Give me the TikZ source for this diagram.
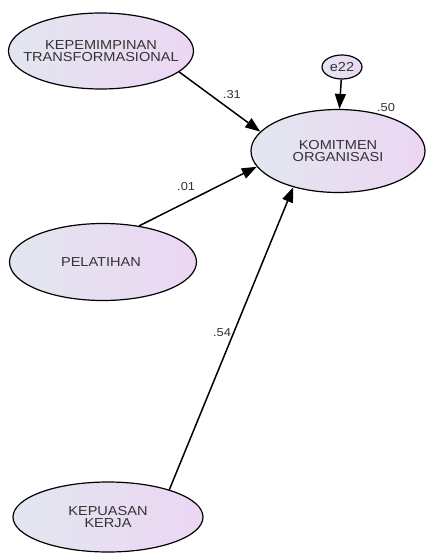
\documentclass[tikz,border=0pt]{standalone}
\usepackage{fontspec}
\setmainfont{Liberation Sans}[FakeStretch=1.12]
\usetikzlibrary{arrows.meta, shapes.geometric}

\begin{document}
\begin{tikzpicture}[x=1pt, y=1pt,
    >={Triangle[length=15pt, width=11pt]},
    % Colors
    gleft/.style={left color={rgb,255:red,226;green,230;blue,240}},
    gright/.style={right color={rgb,255:red,236;green,214;blue,242}},
    % Styles
    latent/.style={draw, ellipse, gleft, gright, line width=1.2pt,
                   inner xsep=-30pt, inner ysep=0pt,
                   font=\fontsize{13}{12.5}\selectfont, align=center, text=black!80},
    err/.style={draw, ellipse, gleft, gright, line width=1.2pt, inner sep=0pt,
                minimum width=40pt, minimum height=24pt,
                font=\fontsize{13}{14}\selectfont, text=black!80},
    path/.style={->, line width=1.5pt},
    coef/.style={font=\fontsize{11.5}{13}\selectfont, text=black!80, inner sep=1pt},
  ]
  \useasboundingbox (0,0) rectangle (425,-553);

  % Exogenous variables
  \node[latent, minimum width=185pt, minimum height=76pt] (kep) at (101,-51) {
    KEPEMIMPINAN\\TRANSFORMASIONAL
  };
  \node[latent, minimum width=187pt, minimum height=77pt] (pel) at (103,-262) {
    PELATIHAN
  };
  \node[latent, minimum width=190pt, minimum height=70pt] (kup) at (108,-517) {
    KEPUASAN\\KERJA
  };

  % Endogenous variable
  \node[latent, minimum width=174pt, minimum height=83pt,
        label={[coef]45:.50}] (kom) at (338,-151) {
    KOMITMEN\\ORGANISASI
  };

  % Error term
  \node[err] (e22) at (342,-67) {e22};

  % Paths
  \draw[path] (e22) -- (kom.88);
  \draw[path] (kep.-15) -- (kom.166) node[pos=0.65, above=10pt, coef] {.31};
  \draw[path] (pel.45) -- (kom.191) node[pos=0.4, above=10pt, coef] {.01};
  \draw[path] (kup.24) -- (kom.219) node[pos=0.52, left=1pt, coef] {.54};

\end{tikzpicture}
\end{document}
